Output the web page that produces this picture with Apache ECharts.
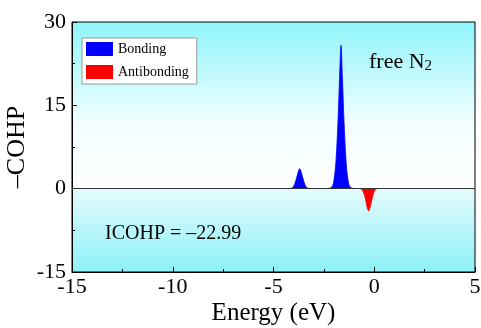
<!DOCTYPE html>
<html>
<head>
<meta charset="utf-8">
<script src="https://cdn.jsdelivr.net/npm/echarts@6/dist/echarts.min.js"></script>
<style>
  html, body { margin: 0; padding: 0; background: #fff; }
  #chart { width: 481px; height: 328px; }
</style>
</head>
<body>
<div id="chart"></div>
<script>
// energy (eV) vs -COHP
const bondingData = [
  [-4.2, 0], [-4.05, 0.2], [-3.95, 0.8], [-3.85, 2.0], [-3.75, 3.3], [-3.7, 3.6],
  [-3.65, 3.3], [-3.55, 2.0], [-3.45, 0.8], [-3.35, 0.2], [-3.2, 0],
  null,
  [-2.3, 0], [-2.1, 0.3], [-2.0, 1.5], [-1.9, 5], [-1.8, 12], [-1.72, 20], [-1.65, 25.8],
  [-1.58, 20], [-1.5, 12], [-1.4, 5], [-1.3, 1.5], [-1.2, 0.3], [-1.0, 0]
];
const antibondingData = [
  [-0.7, 0], [-0.6, -0.2], [-0.5, -1.0], [-0.4, -2.5], [-0.33, -3.7], [-0.28, -4.0],
  [-0.23, -3.7], [-0.15, -2.5], [-0.05, -1.0], [0.05, -0.2], [0.15, 0]
];
const xTicks = [-15, 5, 5];   // min, max, interval
const yTicks = [-15, 30, 15];
const icohpText = 'ICOHP = \u201322.99';

const chart = echarts.init(document.getElementById('chart'));
const serif = '"Liberation Serif", "Times New Roman", serif';

const option = {
  animation: false,
  textStyle: { fontFamily: serif },
  grid: {
    left: 72, right: 6, top: 22, bottom: 56,
    outerBoundsMode: 'none',
    containLabel: false,
    show: true,
    borderColor: '#000',
    borderWidth: 1,
    backgroundColor: {
      type: 'linear', x: 0, y: 0, x2: 0, y2: 1,
      colorStops: [
        { offset: 0, color: '#8ef5fb' },
        { offset: 0.4, color: '#f2feff' },
        { offset: 0.666, color: '#ffffff' },
        { offset: 0.668, color: '#e4fbfd' },
        { offset: 1, color: '#8cf1f8' }
      ]
    }
  },
  legend: {
    orient: 'vertical',
    left: 82, top: 38,
    backgroundColor: '#fff',
    borderColor: '#999',
    borderWidth: 1,
    borderRadius: 0,
    padding: [4, 8, 5, 4],
    itemWidth: 27, itemHeight: 14, itemGap: 9,
    icon: 'rect',
    textStyle: { fontFamily: serif, fontSize: 14, color: '#000' },
    data: ['Bonding', 'Antibonding']
  },
  xAxis: {
    type: 'value',
    min: xTicks[0], max: xTicks[1], interval: xTicks[2],
    name: 'Energy (eV)',
    nameLocation: 'middle',
    nameGap: 29,
    nameMoveOverlap: false,
    nameTextStyle: { fontFamily: serif, fontSize: 25, color: '#000' },
    axisLine: { onZero: false, lineStyle: { color: '#000', width: 1 } },
    axisTick: { inside: true, length: 5, lineStyle: { color: '#000' } },
    minorTick: { show: true, splitNumber: 2, length: 3, lineStyle: { color: '#000' } },
    axisLabel: { fontFamily: serif, fontSize: 22, color: '#000', margin: 4 },
    splitLine: { show: false }
  },
  yAxis: {
    type: 'value',
    min: yTicks[0], max: yTicks[1], interval: yTicks[2],
    name: '\u2013COHP',
    nameLocation: 'middle',
    nameGap: 42,
    nameMoveOverlap: false,
    nameTextStyle: { fontFamily: serif, fontSize: 26, color: '#000' },
    axisLine: { onZero: false, lineStyle: { color: '#000', width: 1 } },
    axisTick: { inside: true, length: 5, lineStyle: { color: '#000' } },
    minorTick: { show: true, splitNumber: 2, length: 3, lineStyle: { color: '#000' } },
    axisLabel: { fontFamily: serif, fontSize: 22, color: '#000', margin: 6 },
    splitLine: { show: false }
  },
  series: [
    {
      name: 'Bonding',
      type: 'line',
      data: bondingData,
      symbol: 'none',
      smooth: 0.3,
      connectNulls: false,
      itemStyle: { color: '#0000ff' },
      lineStyle: { color: '#0000ff', width: 0.8 },
      areaStyle: { color: '#0000ff', opacity: 1 },
      markLine: {
        silent: true,
        symbol: 'none',
        label: { show: false },
        lineStyle: { color: '#333', width: 1, type: 'solid' },
        data: [{ yAxis: 0 }]
      },
      z: 3
    },
    {
      name: 'Antibonding',
      type: 'line',
      data: antibondingData,
      symbol: 'none',
      smooth: 0.3,
      itemStyle: { color: '#ff0000' },
      lineStyle: { color: '#ff0000', width: 0.8 },
      areaStyle: { color: '#ff0000', opacity: 1 },
      z: 3
    }
  ],
  graphic: [
    {
      type: 'text',
      left: 369, top: 51,
      style: {
        text: '{a|free N}{b|2}',
        rich: {
          a: { fontFamily: serif, fontSize: 22, fill: '#000' },
          b: { fontFamily: serif, fontSize: 15, fill: '#000', padding: [8, 0, 0, 0] }
        }
      }
    },
    {
      type: 'text',
      left: 105, top: 224,
      style: { text: icohpText, fontFamily: serif, fontSize: 20, fill: '#000' }
    }
  ]
};

chart.setOption(option);
window.addEventListener('resize', () => chart.resize());
</script>
</body>
</html>
